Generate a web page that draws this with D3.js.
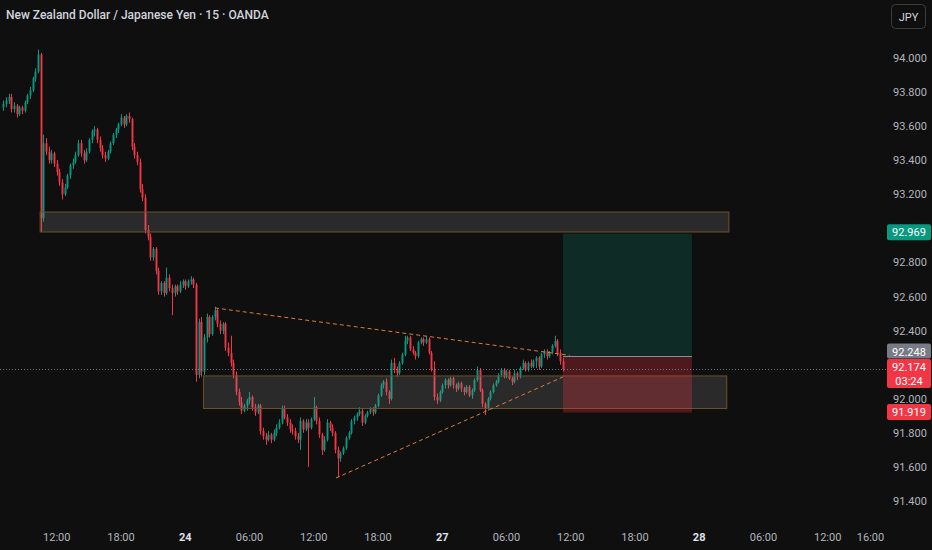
<!DOCTYPE html>
<html><head><meta charset="utf-8">
<script src="https://cdn.jsdelivr.net/npm/d3@7/dist/d3.min.js"></script>
<style>
html,body{margin:0;padding:0;background:#0f0f0f;}
svg{display:block;}
</style></head>
<body>
<svg id="chart" width="932" height="550"></svg>
<script>
// ---- DATA ----
const title = "New Zealand Dollar / Japanese Yen \u00b7 15 \u00b7 OANDA";
const currency = "JPY";
// 15-minute candles [open, high, low, close]; bar index 0 = 23rd 07:00
const day23Bars = [
[93.71,93.75,93.69,93.73],[93.73,93.77,93.71,93.75],[93.75,93.79,93.73,93.77],[93.77,93.79,93.68,93.70],
[93.70,93.74,93.68,93.72],[93.72,93.73,93.65,93.67],[93.67,93.72,93.66,93.71],[93.71,93.72,93.67,93.69],
[93.69,93.75,93.68,93.74],[93.74,93.79,93.73,93.78],[93.78,93.83,93.76,93.81],[93.81,93.89,93.80,93.88],
[93.88,93.94,93.86,93.92],[93.92,94.05,93.91,94.02],[94.02,94.03,92.98,93.06],[93.06,93.55,93.04,93.50],
[93.50,93.53,93.43,93.45],[93.45,93.48,93.38,93.40],[93.40,93.46,93.38,93.44],[93.44,93.45,93.36,93.38],
[93.38,93.40,93.31,93.33],[93.33,93.35,93.25,93.27],[93.27,93.29,93.17,93.20],[93.20,93.26,93.19,93.24],
[93.24,93.32,93.23,93.31],[93.31,93.38,93.29,93.37],[93.37,93.41,93.35,93.39],[93.39,93.45,93.38,93.43],
[93.43,93.52,93.42,93.50],[93.50,93.52,93.42,93.44],[93.44,93.46,93.38,93.40],[93.40,93.47,93.39,93.45],
[93.45,93.53,93.44,93.52],[93.52,93.58,93.50,93.57],[93.57,93.60,93.54,93.58],[93.58,93.59,93.50,93.52],
[93.52,93.54,93.45,93.47],[93.47,93.49,93.41,93.43],[93.43,93.45,93.39,93.41],[93.41,93.46,93.40,93.45],
[93.45,93.51,93.44,93.50],[93.50,93.56,93.49,93.55],[93.55,93.59,93.53,93.58],[93.58,93.62,93.56,93.61],
[93.61,93.67,93.60,93.65],[93.65,93.66,93.59,93.61],[93.61,93.67,93.60,93.66],[93.66,93.68,93.62,93.64],
[93.64,93.65,93.46,93.48],[93.48,93.50,93.41,93.43],[93.43,93.45,93.37,93.39],[93.39,93.41,93.21,93.23],
[93.23,93.26,93.16,93.18],[93.18,93.20,92.97,92.99],[92.99,93.02,92.93,92.95],[92.95,92.97,92.81,92.83],
[92.83,92.89,92.81,92.88],[92.88,92.89,92.73,92.75],[92.75,92.77,92.61,92.63],[92.63,92.69,92.61,92.68],
[92.68,92.69,92.60,92.62],[92.62,92.77,92.61,92.71],[92.71,92.73,92.63,92.65],[92.65,92.67,92.49,92.62],
[92.62,92.67,92.60,92.66],[92.66,92.67,92.61,92.63],[92.63,92.69,92.62,92.67],[92.67,92.70,92.65,92.69]
];
// 24th, from 00:00 (bar index 68)
const day24Bars = [
[92.69,92.70,92.64,92.66],[92.66,92.70,92.65,92.69],[92.69,92.72,92.67,92.70],[92.70,92.71,92.65,92.67],
[92.67,92.68,92.10,92.14],[92.14,92.47,92.12,92.45],[92.45,92.48,92.13,92.16],[92.16,92.38,92.14,92.36],
[92.36,92.50,92.33,92.48],[92.48,92.49,92.36,92.38],[92.38,92.49,92.37,92.48],[92.48,92.54,92.46,92.52],
[92.52,92.53,92.42,92.44],[92.44,92.46,92.38,92.40],[92.40,92.45,92.38,92.44],[92.44,92.45,92.28,92.30],
[92.30,92.33,92.25,92.27],[92.27,92.37,92.19,92.21],[92.21,92.23,92.12,92.14],[92.14,92.16,92.02,92.04],
[92.04,92.06,91.96,91.98],[91.98,92.01,91.91,91.93],[91.93,91.97,91.92,91.96],[91.96,92.00,91.93,91.99],
[91.99,92.04,91.97,92.01],[92.01,92.02,91.93,91.95],[91.95,91.97,91.90,91.92],[91.92,91.97,91.91,91.96],
[91.96,91.97,91.79,91.81],[91.81,91.83,91.76,91.78],[91.78,91.80,91.73,91.76],[91.76,91.81,91.75,91.79],
[91.79,91.80,91.74,91.76],[91.76,91.82,91.75,91.80],[91.80,91.85,91.78,91.83],[91.83,91.88,91.82,91.86],
[91.86,91.96,91.85,91.94],[91.94,91.96,91.88,91.89],[91.89,91.91,91.84,91.86],[91.86,91.88,91.80,91.82],
[91.82,91.85,91.79,91.81],[91.81,91.83,91.76,91.78],[91.78,91.80,91.74,91.76],[91.76,91.89,91.70,91.87],
[91.87,91.88,91.80,91.82],[91.82,91.88,91.81,91.86],[91.86,91.88,91.60,91.83],[91.83,91.89,91.82,91.88],
[91.88,92.01,91.87,91.95],[91.95,91.96,91.85,91.87],[91.87,91.89,91.77,91.79],[91.79,91.80,91.67,91.70],
[91.70,91.78,91.69,91.76],[91.76,91.88,91.75,91.86],[91.86,91.87,91.81,91.83],[91.83,91.85,91.78,91.80],
[91.80,91.81,91.68,91.70],[91.70,91.72,91.54,91.65],[91.65,91.69,91.63,91.68],[91.68,91.72,91.67,91.71],
[91.71,91.78,91.70,91.77],[91.77,91.81,91.76,91.80],[91.80,91.88,91.79,91.87],[91.87,91.90,91.85,91.89],
[91.89,91.92,91.87,91.91],[91.91,91.95,91.90,91.93],[91.93,91.94,91.84,91.86],[91.86,91.91,91.85,91.90],
[91.90,91.93,91.89,91.92],[91.92,91.95,91.91,91.94],[91.94,91.95,91.90,91.92],[91.92,91.97,91.91,91.96],
[91.96,92.03,91.95,92.02],[92.02,92.09,92.01,92.08],[92.08,92.11,92.06,92.10],[92.10,92.12,92.02,92.04],
[92.04,92.05,91.97,92.00],[92.00,92.23,91.99,92.21],[92.21,92.24,92.15,92.17],[92.17,92.19,92.13,92.15],
[92.15,92.22,92.14,92.21],[92.21,92.27,92.20,92.26],[92.26,92.37,92.25,92.34],[92.34,92.37,92.32,92.36],
[92.36,92.37,92.28,92.29],[92.29,92.31,92.26,92.27],[92.27,92.28,92.23,92.25],[92.25,92.34,92.24,92.33],
[92.33,92.36,92.32,92.35],[92.35,92.36,92.31,92.33],[92.33,92.37,92.32,92.35],[92.35,92.36,92.26,92.27],
[92.27,92.28,92.16,92.17],[92.17,92.22,91.99,92.01],[92.01,92.03,91.97,91.99],[91.99,92.05,91.98,92.04]
];
// 27th, from 00:00 (bar index 164)
const day27Bars = [
[92.04,92.09,92.03,92.08],[92.08,92.12,92.06,92.11],[92.11,92.12,92.06,92.08],[92.08,92.13,92.07,92.12],
[92.12,92.13,92.06,92.08],[92.08,92.09,92.04,92.06],[92.06,92.10,92.05,92.09],[92.09,92.10,92.04,92.06],
[92.06,92.07,92.02,92.04],[92.04,92.08,92.03,92.07],[92.07,92.08,92.01,92.02],[92.02,92.06,92.00,92.05],
[92.05,92.12,92.04,92.11],[92.11,92.19,92.10,92.17],[92.17,92.18,92.04,92.05],[92.05,92.06,91.95,91.97],
[91.97,91.98,91.905,91.94],[91.94,92.01,91.93,92.00],[92.00,92.05,91.99,92.04],[92.04,92.09,92.03,92.08],
[92.08,92.11,92.07,92.10],[92.10,92.15,92.09,92.14],[92.14,92.18,92.13,92.17],[92.17,92.18,92.12,92.13],
[92.13,92.17,92.12,92.16],[92.16,92.17,92.11,92.12],[92.12,92.13,92.08,92.10],[92.10,92.17,92.09,92.15],
[92.15,92.16,92.11,92.13],[92.13,92.19,92.12,92.18],[92.18,92.23,92.17,92.21],[92.21,92.22,92.16,92.17],
[92.17,92.22,92.16,92.21],[92.21,92.23,92.18,92.19],[92.19,92.23,92.18,92.22],[92.22,92.25,92.18,92.24],
[92.24,92.25,92.17,92.19],[92.19,92.27,92.18,92.26],[92.26,92.29,92.24,92.28],[92.28,92.29,92.23,92.25],
[92.25,92.28,92.24,92.27],[92.27,92.32,92.26,92.31],[92.31,92.37,92.30,92.34],[92.34,92.35,92.25,92.27],
[92.27,92.29,92.20,92.22],[92.22,92.24,92.16,92.174]
];
const segmentStarts = [0, 68, 164];

const priceTicks = [91.4,91.6,91.8,92.0,92.2,92.4,92.6,92.8,93.0,93.2,93.4,93.6,93.8,94.0];
const timeLabels = ["12:00","18:00","24","06:00","12:00","18:00","27","06:00","12:00","18:00","28","06:00","12:00","16:00"];
const timeLabelBars = [20,44,68,92,116,140,164,188,212,236,260,284,308,324];
const dayLabels = ["24","27","28"];

// drawings: [startBar, endBar, topPrice, bottomPrice]
const zoneUpper = [13.8, 271.1, 93.096, 92.979];
const zoneLower = [74.8, 270.3, 92.134, 91.943];
// triangle lines: [bar1, price1, bar2, price2]
const triUpper = [79.1, 92.533, 211.6, 92.255];
const triLower = [124.3, 91.535, 209.1, 92.128];
// long position tool
const posBars = [209.1, 257.3];
const posTarget = 92.969, posEntry = 92.248, posStop = 91.919;
const lastPrice = 92.174, countdown = "03:24";

// ---- SCALES ----
const svg = d3.select("#chart");
const W = 932, H = 550;
const x = d3.scaleLinear().domain([0, 324]).range([3.2, 870.5]);
const y = d3.scaleLinear().domain([91.4, 94.0]).range([501, 58]);
const UP = "#089981", DOWN = "#f23645";
const fmt = d3.format(".3f");

svg.append("rect").attr("width", W).attr("height", H).attr("fill", "#0f0f0f");

const bars = [];
[day23Bars, day24Bars, day27Bars].forEach((seg, s) => {
  seg.forEach((b, k) => bars.push({i: segmentStarts[s] + k, o: b[0], h: b[1], l: b[2], c: b[3]}));
});

const plot = svg.append("g");
// candles
const bw = 1.9;
const cg = plot.append("g");
cg.selectAll("line.wick").data(bars).join("line")
  .attr("x1", d => Math.round(x(d.i)) + 0.5).attr("x2", d => Math.round(x(d.i)) + 0.5)
  .attr("y1", d => y(d.h)).attr("y2", d => y(d.l))
  .attr("stroke", d => d.c >= d.o ? UP : DOWN).attr("stroke-width", 1);
cg.selectAll("rect.body").data(bars).join("rect")
  .attr("x", d => Math.round(x(d.i)) + 0.5 - bw / 2)
  .attr("width", bw)
  .attr("y", d => y(Math.max(d.o, d.c)))
  .attr("height", d => Math.max(1, Math.abs(y(d.o) - y(d.c))))
  .attr("fill", d => d.c >= d.o ? UP : DOWN);

// zones
[zoneUpper, zoneLower].forEach(z => {
  plot.append("rect")
    .attr("x", x(z[0])).attr("width", x(z[1]) - x(z[0]))
    .attr("y", y(z[2])).attr("height", y(z[3]) - y(z[2]))
    .attr("fill", "rgba(150,150,150,0.2)")
    .attr("stroke", "#6e5228").attr("stroke-width", 1);
});

// position tool
plot.append("rect")
  .attr("x", x(posBars[0])).attr("width", x(posBars[1]) - x(posBars[0]))
  .attr("y", y(posTarget)).attr("height", y(posEntry) - y(posTarget))
  .attr("fill", "rgba(8,153,129,0.2)");
plot.append("rect")
  .attr("x", x(posBars[0])).attr("width", x(posBars[1]) - x(posBars[0]))
  .attr("y", y(posEntry)).attr("height", y(posStop) - y(posEntry))
  .attr("fill", "rgba(242,54,69,0.28)");
plot.append("line")
  .attr("x1", x(posBars[0])).attr("x2", x(posBars[1]))
  .attr("y1", y(posEntry)).attr("y2", y(posEntry))
  .attr("stroke", "#8a8d96").attr("stroke-width", 1);

// triangle
[triUpper, triLower].forEach(t => {
  plot.append("line")
    .attr("x1", x(t[0])).attr("y1", y(t[1]))
    .attr("x2", x(t[2])).attr("y2", y(t[3]))
    .attr("stroke", "#e0793a").attr("stroke-width", 1)
    .attr("stroke-dasharray", "4,3");
});

// last price line
plot.append("line")
  .attr("x1", 0).attr("x2", 886)
  .attr("y1", Math.round(y(lastPrice)) + 0.5).attr("y2", Math.round(y(lastPrice)) + 0.5)
  .attr("stroke", "#8a8d96").attr("stroke-width", 1).attr("stroke-dasharray", "1,2")
  .attr("opacity", 0.8);

// ---- PRICE AXIS ----
const axisFont = "Roboto, 'Noto Sans', sans-serif";
// price tags occupy these vertical bands on the axis; tick labels under them are hidden (as in the source)
const tagBands = [[y(posTarget) - 10, y(posTarget) + 7], [343, 389], [y(posStop) - 9, y(posStop) + 7]];
const visibleTicks = priceTicks.filter(p => !tagBands.some(b => y(p) > b[0] - 3 && y(p) < b[1] + 3));
const pa = svg.append("g");
pa.selectAll("text").data(visibleTicks).join("text")
  .attr("x", 910).attr("y", d => y(d) + 4)
  .attr("text-anchor", "middle")
  .attr("font-family", axisFont).attr("font-size", 11)
  .attr("fill", "#b2b5be")
  .text(d => fmt(d));

function priceTag(yc, h, bg, lines, fg) {
  const g = svg.append("g");
  g.append("rect").attr("x", 887).attr("y", yc - h / 2).attr("width", 44).attr("height", h)
    .attr("rx", 2).attr("fill", bg);
  lines.forEach((t, k) => {
    g.append("text").attr("x", 909).attr("y", yc - h / 2 + 12 + k * 14)
      .attr("text-anchor", "middle").attr("font-family", axisFont).attr("font-size", 11)
      .attr("fill", fg).text(t);
  });
}
priceTag(y(posTarget) - 1.5, 16, "#089981", [fmt(posTarget)], "#ffffff");
priceTag(351, 15, "#787b86", [fmt(posEntry)], "#ffffff");
priceTag(373.5, 29, "#f23645", [fmt(lastPrice), countdown], "#ffffff");
priceTag(y(posStop) - 0.5, 16, "#f23645", [fmt(posStop)], "#ffffff");

// ---- TIME AXIS ----
const ta = svg.append("g");
ta.selectAll("text").data(timeLabels).join("text")
  .attr("x", (d, k) => x(timeLabelBars[k]))
  .attr("y", 541)
  .attr("text-anchor", "middle")
  .attr("font-family", axisFont)
  .attr("font-size", 11)
  .attr("font-weight", d => dayLabels.includes(d) ? "bold" : "normal")
  .attr("fill", d => dayLabels.includes(d) ? "#e0e3eb" : "#b2b5be")
  .text(d => d);

// ---- HEADER ----
svg.append("text").attr("x", 6).attr("y", 19)
  .attr("font-family", "Roboto, 'Noto Sans', sans-serif").attr("font-size", 12)
  .attr("font-weight", 500)
  .attr("fill", "#d1d4dc").text(title);

const btn = svg.append("g");
btn.append("rect").attr("x", 891.5).attr("y", 4.5).attr("width", 34).attr("height", 24)
  .attr("rx", 4).attr("fill", "#0f0f0f").attr("stroke", "#3d3d3d");
btn.append("text").attr("x", 908.5).attr("y", 21)
  .attr("text-anchor", "middle").attr("font-family", axisFont).attr("font-size", 11)
  .attr("fill", "#d1d4dc").text(currency);
</script>
</body></html>
